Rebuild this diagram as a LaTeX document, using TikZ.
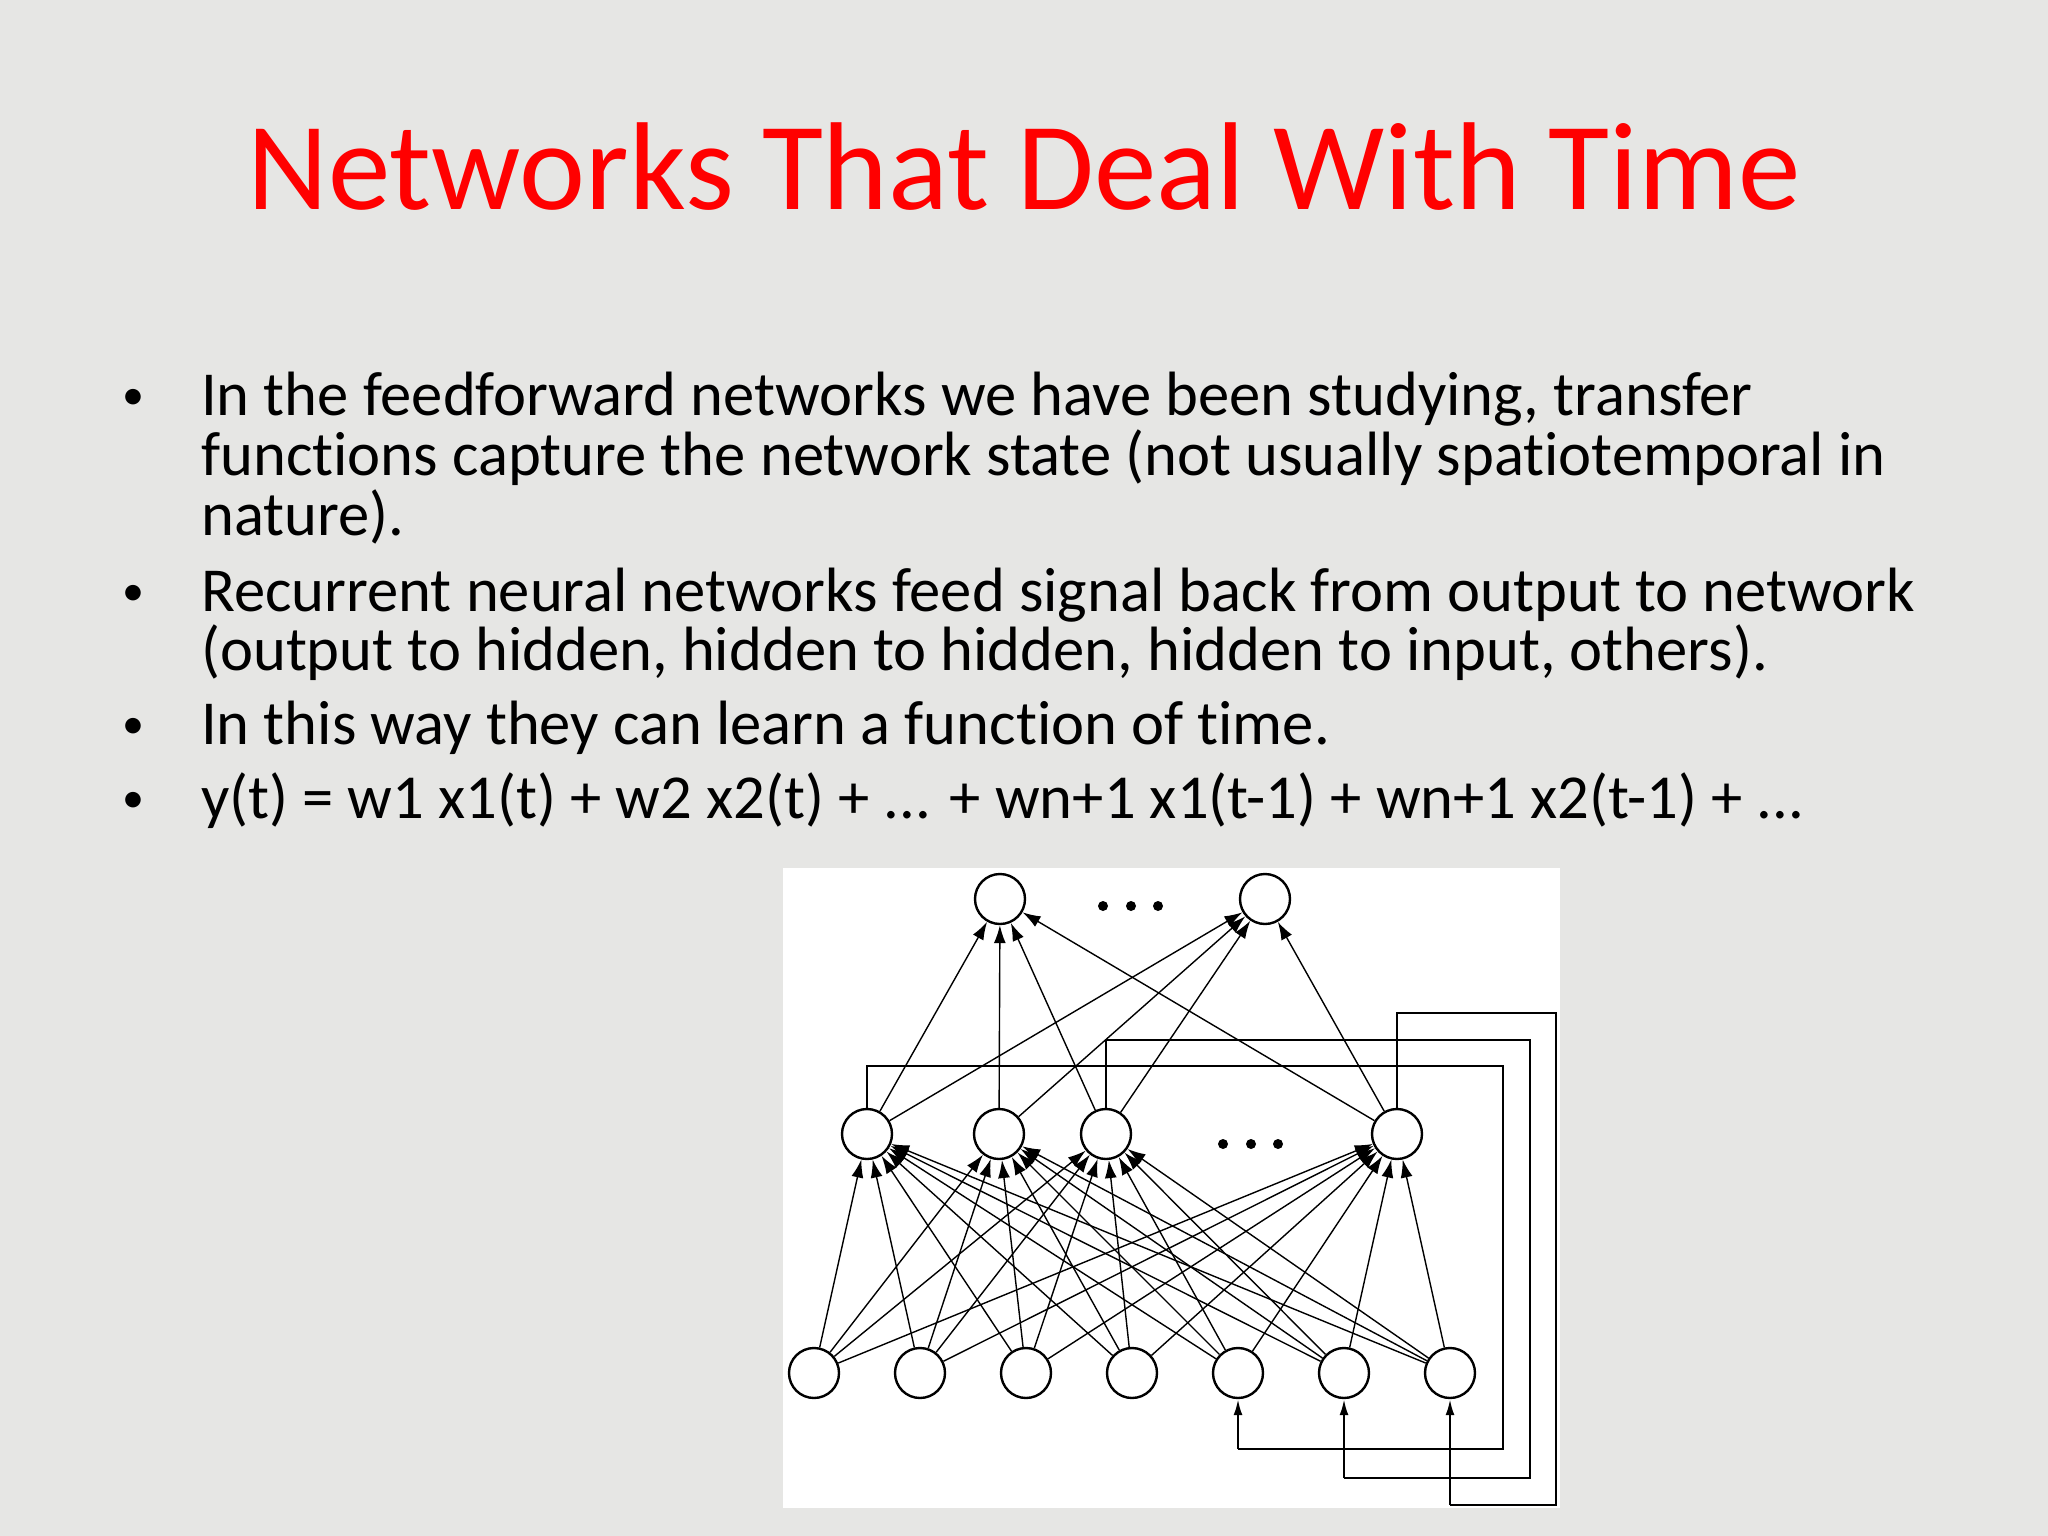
\documentclass[tikz,border=0pt]{standalone}
\usepackage{fontspec}
\setmainfont[Ligatures={NoCommon}]{Carlito}
\usetikzlibrary{arrows.meta}
\definecolor{bg}{HTML}{E6E6E4}
\definecolor{titlered}{HTML}{FF0000}
\begin{document}
\begin{tikzpicture}[x=1pt,y=-1pt,
  neuron/.style={circle,draw,line width=2.4pt,minimum size=50pt,inner sep=0pt},
  conn/.style={line width=1.4pt,-{Latex[length=18pt,width=12pt]}},
  fb/.style={line width=2.2pt},
  fbarr/.style={line width=2.2pt,-{Latex[length=16pt,width=9pt]}},
  txt/.style={anchor=base west,inner sep=0pt,font=\fontsize{62.6}{70}\selectfont},
  bul/.style={anchor=base,inner sep=0pt,font=\fontsize{44}{50}\selectfont}]
\fill[bg] (0,0) rectangle (2048,1536);
\useasboundingbox (0,0) rectangle (2048,1536);
\node[text=titlered,font=\fontsize{125}{140}\selectfont,inner sep=0pt] (title) at (1024,167) {Networks That Deal With Time};
\foreach \y in {409,605,738,812}{\node[bul] at (133,\y) {•};}
\node[txt] (l1) at (201,415) {In the feedforward networks we have been studying, transfer};
\node[txt] (l2) at (201,475) {functions capture the network state (not usually spatiotemporal in};
\node[txt] (l3) at (201,535) {nature).};
\node[txt] (l4) at (201,611) {Recurrent neural networks feed signal back from output to network};
\node[txt] (l5) at (201,670) {(output to hidden, hidden to hidden, hidden to input, others).};
\node[txt] (l6) at (201,744) {In this way they can learn a function of time.};
\node[txt] (l7) at (201,818) {y(t) = w1 x1(t) + w2 x2(t) + ... + wn+1 x1(t-1) + wn+1 x2(t-1) + ...};
\fill[white] (783,868) rectangle (1560,1508);
\node[neuron] (o1) at (1000,899) {};
\node[neuron] (o2) at (1265,899) {};
\foreach \n/\x in {1/867,2/999,3/1106,4/1397}{\node[neuron] (h\n) at (\x,1134) {};}
\foreach \n/\x in {1/814,2/920,3/1026,4/1132,5/1238,6/1344,7/1450}{\node[neuron] (i\n) at (\x,1373) {};}
\foreach \x in {1103,1131,1158}{\fill (\x,906) circle (5pt);}
\foreach \x in {1223,1251,1278}{\fill (\x,1144) circle (5pt);}
\foreach \i in {1,...,7}{\foreach \h in {1,...,4}{\draw[conn] (i\i) -- (h\h);}}
\foreach \h in {1,...,4}{\foreach \o in {1,2}{\draw[conn] (h\h) -- (o\o);}}
\draw[fb] (h1.north) |- (1503,1066) |- (1238,1449);
\draw[fbarr] (1238,1449) -- (i5.south);
\draw[fb] (h3.north) |- (1530,1040) |- (1344,1478);
\draw[fbarr] (1344,1478) -- (i6.south);
\draw[fb] (h4.north) |- (1556,1013) |- (1450,1505);
\draw[fbarr] (1450,1505) -- (i7.south);
\end{tikzpicture}
\end{document}
